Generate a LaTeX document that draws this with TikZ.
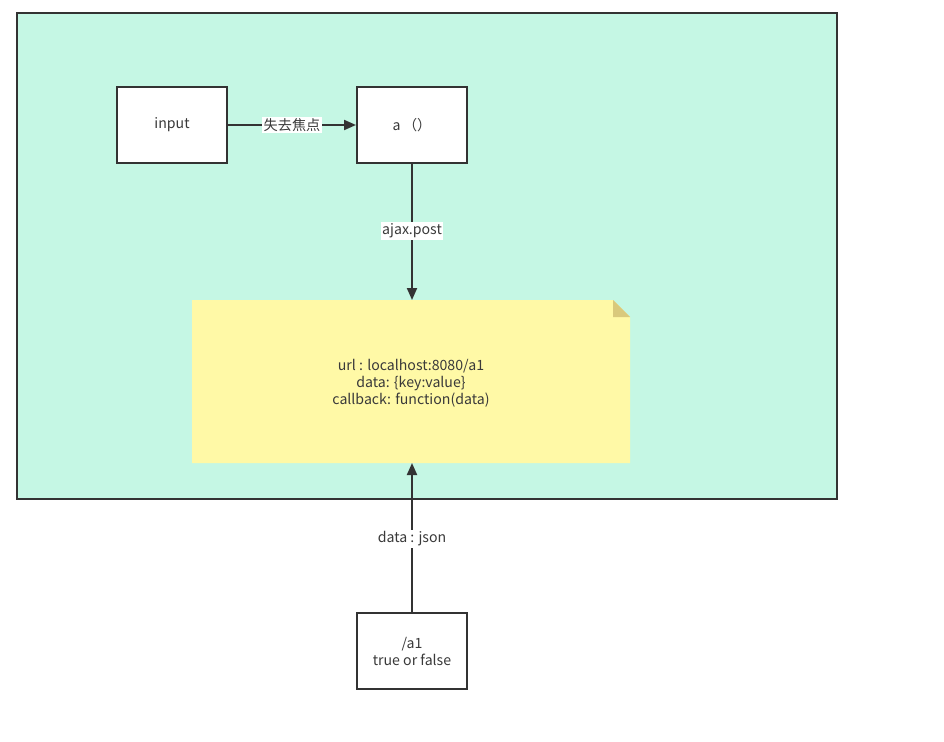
\documentclass[tikz,border=0pt]{standalone}
\usepackage{fontspec}
\setmainfont{Noto Sans CJK SC}
\usetikzlibrary{arrows.meta}
\definecolor{bggreen}{HTML}{C5F7E4}
\definecolor{notey}{HTML}{FFF9A6}
\definecolor{foldc}{HTML}{D9C97C}
\definecolor{edgec}{HTML}{333333}
\definecolor{txt}{HTML}{3A3A3A}
\tikzset{
  boxnode/.style={draw=edgec, line width=1.5pt, fill=white, minimum width=82.5pt, minimum height=57pt, inner sep=0pt, text=txt, font=\fontsize{10.6}{12.75}\selectfont, align=center},
  conn/.style={draw=edgec, line width=1.5pt, -{Triangle[length=9pt,width=7.5pt]}},
  lbl/.style={fill=white, inner sep=1pt, text=txt, font=\fontsize{10.6}{12}\selectfont},
}
\begin{document}
\begin{tikzpicture}[x=0.75pt,y=-0.75pt]
\useasboundingbox (0,0) rectangle (944,741);
\fill[white] (0,0) rectangle (944,741);
% container
\draw[draw=edgec, line width=1.2pt, fill=bggreen] (17,13) rectangle (837,499);
% note
\fill[notey] (192,300) -- (613,300) -- (630,317) -- (630,463) -- (192,463) -- cycle;
\fill[foldc] (613,300) -- (613,317) -- (630,317) -- cycle;
\node[text=txt, font=\fontsize{10.6}{12.75}\selectfont, align=center] (note) at (411,383) {url : localhost:8080/a1\\data: \{key:value\}\\callback: function(data)};
\coordinate (notetop) at (412,300);
\coordinate (notebot) at (412,463);
% boxes
\node[boxnode] (input) at (172,125) {\raisebox{-1.5pt}{input}};
\node[boxnode] (a) at (412,125) {\raisebox{-1.5pt}{a\,（）}};
\node[boxnode] (a1) at (412,651) {/a1\\true or false};
% connectors
\draw[conn] (input.east) -- node[lbl] {失去焦点} (a.west);
\draw[conn] (a.south) -- (notetop);
\node[lbl] (ajaxlbl) at (412,231) {ajax.post};
\draw[conn] (a1.north) -- (notebot);
\node[lbl] (jsonlbl) at (412,539) {data : json};
\end{tikzpicture}
\end{document}
